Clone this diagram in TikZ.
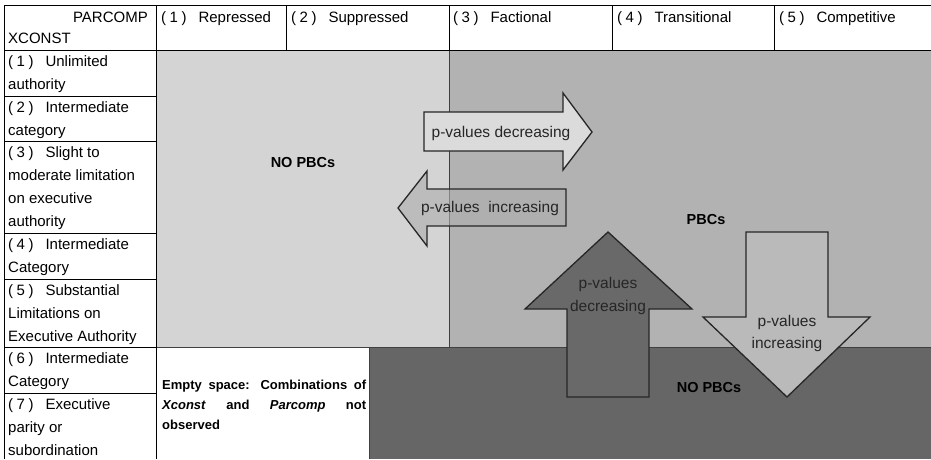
\documentclass[tikz,border=0pt]{standalone}
\usepackage{fontspec}
\setmainfont{Liberation Sans}
\definecolor{lightreg}{gray}{0.83}
\definecolor{pbcreg}{gray}{0.70}
\definecolor{darkreg}{gray}{0.40}
\definecolor{arrlight}{gray}{0.86}
\definecolor{arrmid}{gray}{0.68}
\definecolor{arrdown}{gray}{0.73}
\definecolor{arrdark}{gray}{0.41}
\newcommand{\pnum}[1]{(\hspace{3.5pt}#1\hspace{3.5pt})\hspace{12pt}}
\begin{document}
\begin{tikzpicture}[x=1pt,y=1pt]
              \tikzstyle{every node}+=[inner sep=0pt]
              \tikzstyle{txt}=[anchor=base west, font=\fontsize{15}{23}\selectfont]
              \tikzstyle{mid}=[anchor=base, text=black!85, font=\fontsize{15.5}{23}\selectfont]
              \tikzstyle{hot}=[anchor=base, font=\fontsize{14.5}{20}\selectfont\bfseries]
              \tikzstyle{note}=[anchor=base west, font=\fontsize{13}{20}\selectfont\bfseries]
              \tikzstyle{arr}=[draw=black!85, line width=1.3pt, line join=miter]
              \useasboundingbox (0,0) rectangle (931,-459);
              \fill [white] (0,0) rectangle (931,-459);
              % shaded regions
              \fill [lightreg] (156,-50) rectangle (449,-347);
              \fill [pbcreg] (449,-50) rectangle (931,-347);
              \fill [darkreg] (369,-347) rectangle (931,-459);
              \draw [black!75] (449,-50) -- (449,-347);
              \draw [black!75] (156,-347) -- (931,-347);
              \draw [black!75] (369,-347) -- (369,-459);
              % table lines
              \draw [black] (4,-5) -- (931,-5);
              \draw [black] (4,-50) -- (931,-50);
              \draw [black] (4,-5) -- (4,-459);
              \draw [black] (156,-5) -- (156,-459);
              \draw [black] (286,-5) -- (286,-50);
              \draw [black] (449,-5) -- (449,-50);
              \draw [black] (612,-5) -- (612,-50);
              \draw [black] (774,-5) -- (774,-50);
              \draw [black] (4,-96) -- (156,-96);
              \draw [black] (4,-141) -- (156,-141);
              \draw [black] (4,-233) -- (156,-233);
              \draw [black] (4,-279) -- (156,-279);
              \draw [black] (4,-347) -- (156,-347);
              \draw [black] (4,-393) -- (156,-393);
              % header
              \node [txt, anchor=base east] (par) at (148,-22) {PARCOMP};
              \node [txt] (xcon) at (8,-43) {XCONST};
              \node [txt] (c1) at (161,-22) {\pnum{1}Repressed};
              \node [txt] (c2) at (291,-22) {\pnum{2}Suppressed};
              \node [txt] (c3) at (453,-22) {\pnum{3}Factional};
              \node [txt] (c4) at (617,-22) {\pnum{4}Transitional};
              \node [txt] (c5) at (779,-22) {\pnum{5}Competitive};
              % row labels
              \node [txt] (r1a) at (8,-66) {\pnum{1}Unlimited};
              \node [txt] (r1b) at (8,-89) {authority};
              \node [txt] (r2a) at (8,-112) {\pnum{2}Intermediate};
              \node [txt] (r2b) at (8,-135) {category};
              \node [txt] (r3a) at (8,-157) {\pnum{3}Slight to};
              \node [txt] (r3b) at (8,-180) {moderate limitation};
              \node [txt] (r3c) at (8,-203) {on executive};
              \node [txt] (r3d) at (8,-226) {authority};
              \node [txt] (r4a) at (8,-249) {\pnum{4}Intermediate};
              \node [txt] (r4b) at (8,-272) {Category};
              \node [txt] (r5a) at (8,-295) {\pnum{5}Substantial};
              \node [txt] (r5b) at (8,-318) {Limitations on};
              \node [txt] (r5c) at (8,-341) {Executive Authority};
              \node [txt] (r6a) at (8,-363) {\pnum{6}Intermediate};
              \node [txt] (r6b) at (8,-386) {Category};
              \node [txt] (r7a) at (8,-409) {\pnum{7}Executive};
              \node [txt] (r7b) at (8,-432) {parity or};
              \node [txt] (r7c) at (8,-455) {subordination};
              % arrows
              \draw [arr, fill=arrmid, fill opacity=0.6] (566,-189) -- (427,-189) -- (427,-171) -- (398,-208) -- (427,-246) -- (427,-226) -- (566,-226) -- cycle;
              \draw [arr, fill=arrlight] (424,-112) -- (563,-112) -- (563,-93) -- (592,-132) -- (563,-170) -- (563,-151) -- (424,-151) -- cycle;
              \draw [arr, fill=arrdark] (567,-397) -- (567,-309) -- (525,-309) -- (608,-232) -- (692,-309) -- (649,-309) -- (649,-397) -- cycle;
              \draw [arr, fill=arrdown] (746,-232) -- (828,-232) -- (828,-317) -- (870,-317) -- (787,-397) -- (703,-317) -- (746,-317) -- cycle;
              \node [mid] (dec1) at (501,-137) {p-values decreasing};
              \node [mid] (inc1) at (490,-212) {p-values\ \ increasing};
              \node [mid] (dec2a) at (608,-288) {p-values};
              \node [mid] (dec2b) at (608,-311) {decreasing};
              \node [mid] (inc2a) at (787,-326) {p-values};
              \node [mid] (inc2b) at (787,-348) {increasing};
              % region labels
              \node [hot] (nopbc) at (303,-167) {NO PBCs};
              \node [hot] (pbc) at (706,-224) {PBCs};
              \node [hot] (nopbc2) at (709,-392) {NO PBCs};
              \node [note] (emp1) at (162,-389) {\makebox[204pt][s]{Empty space: Combinations of}};
              \node [note] (emp2) at (162,-409) {\makebox[204pt][s]{\textit{Xconst} and \textit{Parcomp} not}};
              \node [note] (emp3) at (162,-429) {observed};
            \end{tikzpicture}
\end{document}
